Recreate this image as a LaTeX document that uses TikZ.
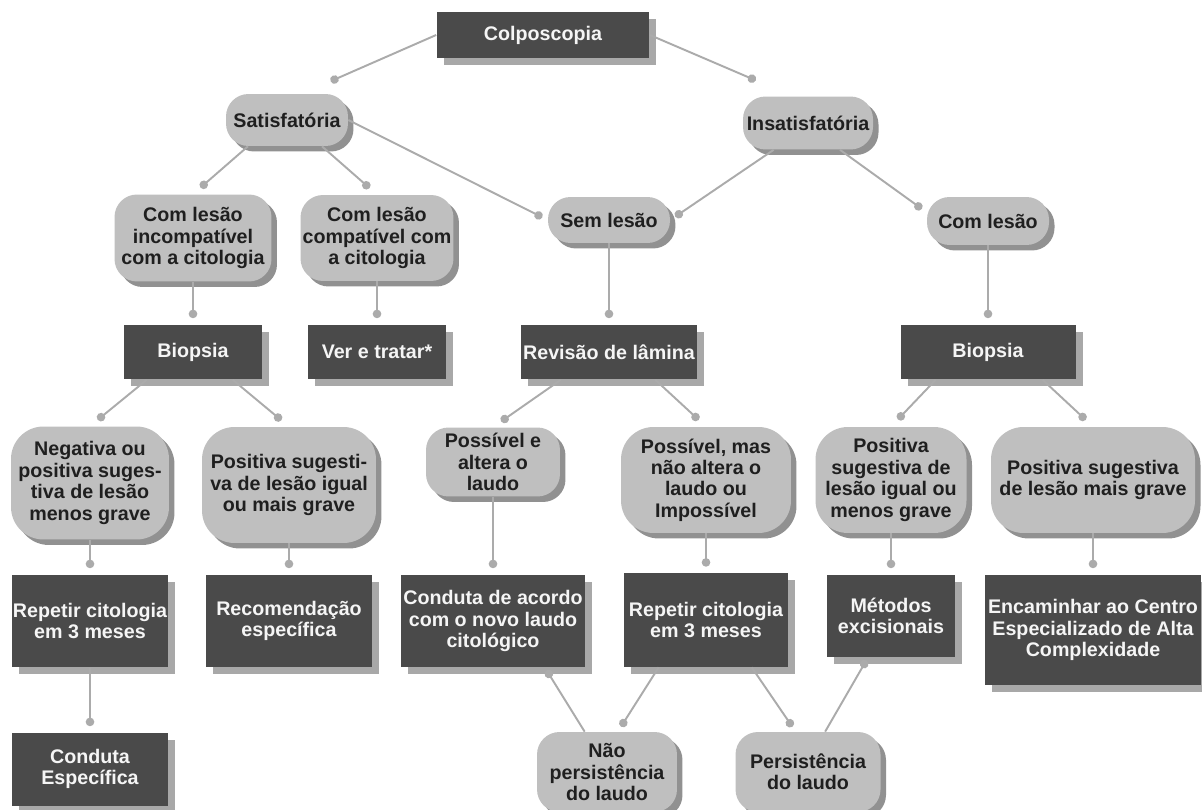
\documentclass[tikz,border=0pt]{standalone}
\usepackage{fontspec}
\setmainfont{Liberation Sans}
\usepackage{tikz}
\usetikzlibrary{calc,positioning,arrows.meta,shapes,shadows}

\definecolor{boxdark}{gray}{0.29}
\definecolor{boxshade}{gray}{0.66}
\definecolor{pillfill}{gray}{0.75}
\definecolor{pillshade}{gray}{0.57}
\definecolor{wire}{gray}{0.67}
\definecolor{inkdark}{gray}{0.12}
\definecolor{inklight}{gray}{0.96}

\begin{document}
\begin{tikzpicture}[x=0.02cm, y=-0.02cm]
\tikzstyle{every node}=[font=\fontsize{11.2}{12.2}\selectfont\bfseries, align=center, inner sep=0pt]
\tikzstyle{dark}=[rectangle, fill=boxdark, text=inklight, drop shadow={shadow xshift=0.14cm, shadow yshift=-0.14cm, fill=boxshade, opacity=1}]
\tikzstyle{soft}=[rectangle, rounded corners=0.45cm, fill=pillfill, text=inkdark, drop shadow={shadow xshift=0.11cm, shadow yshift=-0.11cm, fill=pillshade, opacity=1}]
\tikzstyle{tall}=[rounded corners=0.65cm]
\tikzstyle{link}=[draw=wire, line width=1.1pt, -{Circle[length=0.17cm]}, shorten >=0.12cm]
\tikzstyle{back}=[link, shorten >=0.06cm]

\useasboundingbox (0,0) rectangle (1202,810);

\node[dark, minimum width=4.26cm, minimum height=0.92cm] (colpo) at (543,35) {Colposcopia};
\node[soft, minimum width=2.44cm, minimum height=1.04cm] (sat) at (287,120) {Satisfatória};
\node[soft, minimum width=2.60cm, minimum height=1.06cm] (insat) at (808,123) {Insatisfatória};

\node[soft, minimum width=3.14cm, minimum height=1.74cm] (incomp) at (193,238) {Com lesão\\incompatível\\com a citologia};
\node[soft, minimum width=3.06cm, minimum height=1.72cm] (comp) at (377,238) {Com lesão\\compatível com\\a citologia};
\node[soft, minimum width=2.44cm, minimum height=0.92cm] (semles) at (609,220) {Sem lesão};
\node[soft, minimum width=2.44cm, minimum height=0.96cm] (comles) at (988,221) {Com lesão};

\node[dark, minimum width=2.78cm, minimum height=1.10cm] (biopA) at (193,352) {Biopsia};
\node[dark, minimum width=2.78cm, minimum height=1.10cm] (vertr) at (377,352) {Ver e tratar*};
\node[dark, minimum width=3.52cm, minimum height=1.10cm] (revis) at (609,352) {Revisão de lâmina};
\node[dark, minimum width=3.50cm, minimum height=1.10cm] (biopB) at (988,352) {Biopsia};

\node[soft, tall, minimum width=3.16cm, minimum height=2.26cm] (neg) at (90,483) {Negativa ou\\positiva suges-\\tiva de lesão\\menos grave};
\node[soft, tall, minimum width=3.48cm, minimum height=2.32cm] (possug) at (289,485) {Positiva sugesti-\\va de lesão igual\\ou mais grave};
\node[soft, minimum width=2.68cm, minimum height=1.38cm] (altera) at (493,462) {Possível e\\altera o\\laudo};
\node[soft, tall, minimum width=3.40cm, minimum height=2.12cm] (naoalt) at (706,480) {Possível, mas\\não altera o\\laudo ou\\Impossível};
\node[soft, tall, minimum width=3.02cm, minimum height=2.12cm] (igual) at (891,480) {Positiva\\sugestiva de\\lesão igual ou\\menos grave};
\node[soft, tall, minimum width=4.08cm, minimum height=2.12cm] (grave) at (1093,480) {Positiva sugestiva\\de lesão mais grave};

\node[dark, minimum width=3.12cm, minimum height=1.86cm] (repA) at (90,621) {Repetir citologia\\em 3 meses};
\node[dark, minimum width=3.34cm, minimum height=1.86cm] (recom) at (289,621) {Recomendação\\específica};
\node[dark, minimum width=3.70cm, minimum height=1.86cm] (novo) at (493,621) {Conduta de acordo\\com o novo laudo\\citológico};
\node[dark, minimum width=3.30cm, minimum height=1.88cm] (repB) at (706,620) {Repetir citologia\\em 3 meses};
\node[dark, minimum width=2.56cm, minimum height=1.66cm] (excis) at (891,616) {Métodos\\excisionais};
\node[dark, minimum width=4.32cm, minimum height=2.22cm] (centro) at (1093,630) {Encaminhar ao Centro\\Especializado de Alta\\Complexidade};

\node[dark, minimum width=3.12cm, minimum height=1.46cm] (especif) at (90,769) {Conduta\\Específica};
\node[soft, minimum width=2.80cm, minimum height=1.60cm] (naopers) at (607,772) {Não\\persistência\\do laudo};
\node[soft, minimum width=2.90cm, minimum height=1.60cm] (pers) at (808,772) {Persistência\\do laudo};

\draw[link, shorten >=0.62cm] (colpo.west) -- (sat.60);
\draw[link, shorten >=0.8cm] (colpo.east) -- (insat.120);
\draw[link, shorten >=0.2cm] (sat.214) -- (incomp.north);
\draw[link, shorten >=0.2cm] (sat.323) -- (comp.north);
\draw[link] (sat.east) -- (semles.west);
\draw[link] (insat.218) -- (semles.east);
\draw[link] (insat.320) -- (comles.172);
\draw[link] (incomp.south) -- (biopA.north);
\draw[link] (comp.south) -- (vertr.north);
\draw[link] (semles.south) -- (revis.north);
\draw[link] (comles.south) -- (biopB.north);
\draw[link, shorten >=0.2cm] (biopA.211) -- (neg.north);
\draw[link, shorten >=0.2cm] (biopA.325) -- (possug.north);
\draw[link, shorten >=0.2cm] (revis.210) -- (altera.north);
\draw[link, shorten >=0.2cm] (revis.329) -- (naoalt.north);
\draw[link, shorten >=0.2cm] (biopB.208) -- (igual.north);
\draw[link, shorten >=0.2cm] (biopB.333) -- (grave.north);
\draw[link] (neg.south) -- (repA.north);
\draw[link] (possug.south) -- (recom.north);
\draw[link] (altera.south) -- (novo.north);
\draw[link] (naoalt.south) -- (repB.north);
\draw[link] (igual.south) -- (excis.north);
\draw[link] (grave.south) -- (centro.north);
\draw[link] (repA.south) -- (especif.north);
\draw[back] (naopers.119) -- (novo.318);
\draw[link] (repB.225) -- (naopers.75);
\draw[link] (repB.314) -- (pers.107);
\draw[back] (pers.67) -- (excis.241);
\end{tikzpicture}
\end{document}
